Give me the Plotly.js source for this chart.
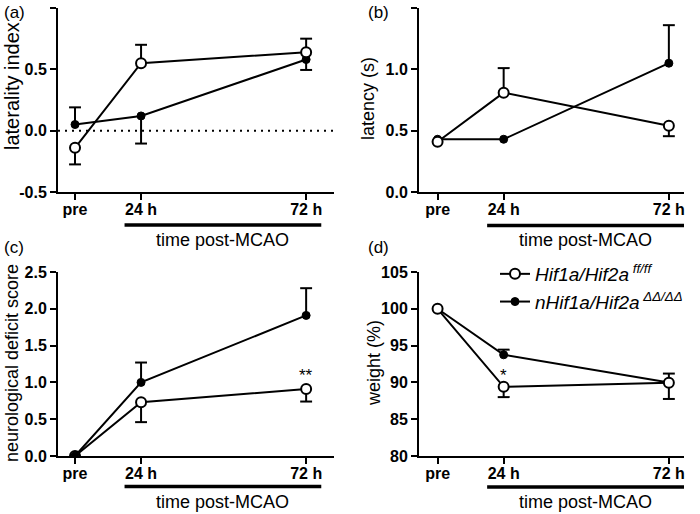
<!DOCTYPE html>
<html><head><meta charset="utf-8">
<script src="https://cdn.plot.ly/plotly-3.0.1.min.js"></script>
<style>html,body{margin:0;padding:0;background:#fff}#chart{width:700px;height:514px}</style>
</head><body><div id="chart"></div>
<script>
// ---------- data ----------
const timeLabels = ['pre', '24 h', '72 h'];
const timeHours = [4.8, 24, 72];          // position of time points on the hour axis
const groupNames = ['<i>Hif1a/Hif2a</i><sup><i> ff/ff</i></sup>', '<i>nHif1a/Hif2a</i><sup><i> ΔΔ/ΔΔ</i></sup>'];

// (a) laterality index
const latIdxCtrl = [-0.14, 0.55, 0.64];
const latIdxCtrlUp = [0, 0.15, 0.11];
const latIdxCtrlDown = [0.135, 0, 0];
const latIdxKO = [0.05, 0.12, 0.58];
const latIdxKOUp = [0.14, 0, 0];
const latIdxKODown = [0, 0.225, 0.085];

// (b) latency (s)
const latencyCtrl = [0.41, 0.81, 0.54];
const latencyCtrlUp = [0, 0.20, 0];
const latencyCtrlDown = [0, 0, 0.085];
const latencyKO = [0.43, 0.43, 1.05];
const latencyKOUp = [0, 0, 0.31];
const latencyKODown = [0, 0, 0];

// (c) neurological deficit score
const ndsCtrl = [0, 0.73, 0.91];
const ndsCtrlUp = [0, 0, 0];
const ndsCtrlDown = [0, 0.27, 0.17];
const ndsKO = [0, 1.0, 1.91];
const ndsKOUp = [0, 0.27, 0.37];
const ndsKODown = [0, 0, 0];

// (d) weight (%)
const weightCtrl = [100, 89.4, 89.95];
const weightCtrlUp = [0, 0, 0];
const weightCtrlDown = [0, 1.4, 2.2];
const weightKO = [100, 93.75, 90.0];
const weightKOUp = [0, 0.7, 1.2];
const weightKODown = [0, 0, 0];

const yTicksA = [-0.5, 0, 0.5, 1.0];
const yTicksB = [0, 0.5, 1.0, 1.5];
const yTicksC = [0, 0.5, 1.0, 1.5, 2.0, 2.5];
const yTicksD = [80, 85, 90, 95, 100, 105];

const postBar = [19.2, 76.4];   // extent of the "time post-MCAO" bar in hours

// ---------- build ----------
const FONT = 'Arial, "Liberation Sans", Helvetica, sans-serif';
const BLACK = '#000';
const traces = [];

function errorTraces(xa, ya, means, up, down) {
  const xs = [], ys = [], cx = [], cy = [];
  for (let i = 0; i < means.length; i++) {
    if (up[i] > 0) { xs.push(timeHours[i], timeHours[i], null); ys.push(means[i], means[i] + up[i], null); cx.push(timeHours[i]); cy.push(means[i] + up[i]); }
    if (down[i] > 0) { xs.push(timeHours[i], timeHours[i], null); ys.push(means[i], means[i] - down[i], null); cx.push(timeHours[i]); cy.push(means[i] - down[i]); }
  }
  traces.push({type: 'scatter', mode: 'lines', x: xs, y: ys, xaxis: xa, yaxis: ya,
    line: {color: BLACK, width: 2}, showlegend: false, hoverinfo: 'skip'});
  traces.push({type: 'scatter', mode: 'markers', x: cx, y: cy, xaxis: xa, yaxis: ya,
    marker: {symbol: 'line-ew', size: 8.5, color: BLACK, line: {color: BLACK, width: 2}},
    showlegend: false, hoverinfo: 'skip'});
}
function series(xa, ya, means, open, legend) {
  traces.push({type: 'scatter', mode: 'lines+markers', x: timeHours, y: means, xaxis: xa, yaxis: ya,
    name: open ? groupNames[0] : groupNames[1], legendrank: open ? 1 : 2, showlegend: legend,
    line: {color: BLACK, width: 2},
    marker: open ? {symbol: 'circle', size: 10, color: '#fff', line: {color: BLACK, width: 2}}
                 : {symbol: 'circle', size: 8, color: BLACK, line: {color: BLACK, width: 1}}});
}

const panels = [
  {xa: 'x', ya: 'y', c: latIdxCtrl, cu: latIdxCtrlUp, cd: latIdxCtrlDown, k: latIdxKO, ku: latIdxKOUp, kd: latIdxKODown, openTop: true},
  {xa: 'x2', ya: 'y2', c: latencyCtrl, cu: latencyCtrlUp, cd: latencyCtrlDown, k: latencyKO, ku: latencyKOUp, kd: latencyKODown, openTop: true},
  {xa: 'x3', ya: 'y3', c: ndsCtrl, cu: ndsCtrlUp, cd: ndsCtrlDown, k: ndsKO, ku: ndsKOUp, kd: ndsKODown, openTop: false},
  {xa: 'x4', ya: 'y4', c: weightCtrl, cu: weightCtrlUp, cd: weightCtrlDown, k: weightKO, ku: weightKOUp, kd: weightKODown, openTop: true, legend: true}
];
panels.forEach(p => {
  errorTraces(p.xa, p.ya, p.c, p.cu, p.cd);
  errorTraces(p.xa, p.ya, p.k, p.ku, p.kd);
  if (p.openTop) { series(p.xa, p.ya, p.k, false, !!p.legend); series(p.xa, p.ya, p.c, true, !!p.legend); }
  else { series(p.xa, p.ya, p.c, true, !!p.legend); series(p.xa, p.ya, p.k, false, !!p.legend); }
});

const W = 700, H = 514;
const px = v => v / W, py = v => 1 - v / H;

function xAxis(domain, range, anchor) {
  return {domain: domain, range: range, anchor: anchor, showgrid: false, zeroline: false,
    showline: true, linecolor: BLACK, linewidth: 2, ticks: 'outside', ticklen: 6, tickwidth: 2, tickcolor: BLACK,
    ticklabelstandoff: -4,
    tickvals: timeHours, ticktext: timeLabels, tickfont: {family: FONT, size: 16, color: BLACK, weight: 700}, fixedrange: true};
}
function yAxis(domain, range, anchor, vals, dec) {
  return {domain: domain, range: range, anchor: anchor, showgrid: false, zeroline: false,
    showline: true, linecolor: BLACK, linewidth: 2, ticks: 'outside', ticklen: 6, tickwidth: 2, tickcolor: BLACK,
    tickvals: vals, ticktext: vals.map(v => v.toFixed(dec).replace('\u2212', '-')),
    tickfont: {family: FONT, size: 16, color: BLACK, weight: 700}, fixedrange: true};
}
const leftDom = [px(58), px(334)], rightDom = [px(419), px(684)];
const topDom = [py(192), py(8)], botDom = [py(456), py(272)];
const rangeL = [-0.15, 80.1], rangeR = [-0.6, 76.4];

const ann = [];
function txt(x, y, text, size, extra) {
  ann.push(Object.assign({xref: 'paper', yref: 'paper', x: px(x), y: py(y), text: text, showarrow: false,
    font: {family: FONT, size: size, color: BLACK}, xanchor: 'center', yanchor: 'middle'}, extra || {}));
}
txt(2, 12, '(a)', 17, {xanchor: 'left'});
txt(366, 12, '(b)', 17, {xanchor: 'left'});
txt(2, 247, '(c)', 17, {xanchor: 'left'});
txt(366, 247, '(d)', 17, {xanchor: 'left'});
txt(12, 86, 'laterality index', 20, {textangle: -90});
txt(368, 99, 'latency (s)', 18, {textangle: -90});
txt(12, 363, 'neurological deficit score', 18, {textangle: -90});
txt(374, 363, 'weight (%)', 18, {textangle: -90});
const barCenter = (postBar[0] + postBar[1]) / 2;
[['x', 240], ['x2', 240], ['x3', 502], ['x4', 502]].forEach(([xa, y]) => {
  ann.push({xref: xa, yref: 'paper', x: barCenter, y: py(y), text: 'time post-MCAO', showarrow: false,
    font: {family: FONT, size: 18, color: BLACK}, xanchor: 'center', yanchor: 'middle'});
});
ann.push({xref: 'x3', yref: 'y3', x: timeHours[2], y: 1.1, text: '**', showarrow: false,
  font: {family: FONT, size: 17, color: BLACK}, xanchor: 'center', yanchor: 'middle'});
ann.push({xref: 'x4', yref: 'y4', x: timeHours[1], y: 91.0, text: '*', showarrow: false,
  font: {family: FONT, size: 17, color: BLACK}, xanchor: 'center', yanchor: 'middle'});

const shapes = [];
[['x', 225], ['x2', 225.5], ['x3', 486.5], ['x4', 487]].forEach(([xa, y]) => {
  shapes.push({type: 'line', xref: xa, yref: 'paper', x0: postBar[0], x1: postBar[1], y0: py(y), y1: py(y),
    line: {color: BLACK, width: 3.5}});
});
shapes.push({type: 'line', xref: 'x domain', yref: 'y', x0: 0, x1: 1, y0: 0, y1: 0,
  line: {color: BLACK, width: 2, dash: '2px,5px'}, layer: 'below'});

const layout = {
  width: W, height: H, margin: {l: 0, r: 0, t: 0, b: 0}, paper_bgcolor: '#fff', plot_bgcolor: 'rgba(0,0,0,0)',
  font: {family: FONT, color: BLACK},
  showlegend: true,
  legend: {x: px(495), y: py(255), xanchor: 'left', yanchor: 'top', bgcolor: 'rgba(0,0,0,0)',
    font: {family: FONT, size: 19, color: BLACK}, traceorder: 'normal'},
  xaxis: xAxis(leftDom, rangeL, 'y'), yaxis: yAxis(topDom, [-0.5, 1.0], 'x', yTicksA, 1),
  xaxis2: xAxis(rightDom, rangeR, 'y2'), yaxis2: yAxis(topDom, [0, 1.5], 'x2', yTicksB, 1),
  xaxis3: xAxis(leftDom, rangeL, 'y3'), yaxis3: yAxis(botDom, [0, 2.5], 'x3', yTicksC, 1),
  xaxis4: xAxis(rightDom, rangeR, 'y4'), yaxis4: yAxis(botDom, [80, 105], 'x4', yTicksD, 0),
  annotations: ann, shapes: shapes
};
Plotly.newPlot('chart', traces, layout, {displayModeBar: false, staticPlot: true});
</script></body></html>
